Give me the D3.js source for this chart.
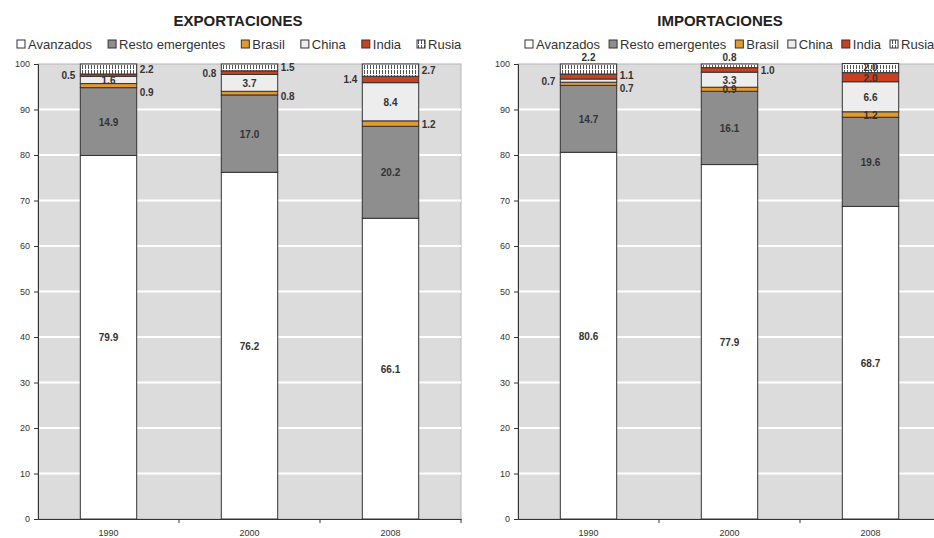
<!DOCTYPE html>
<html lang="es">
<head>
<meta charset="utf-8">
<title>Exportaciones e importaciones</title>
<script src="https://cdn.jsdelivr.net/npm/d3@7/dist/d3.min.js"></script>
<style>
  body { margin: 0; background: #fff; }
  svg { font-family: "Liberation Sans", Arial, sans-serif; }
  .title { font-size: 15px; font-weight: bold; fill: #222; }
  .legend text { font-size: 13px; fill: #333; }
  .tick text { font-size: 9px; fill: #333; }
  .val { font-size: 10px; font-weight: bold; fill: #333; }
</style>
</head>
<body>
<svg width="934" height="538"></svg>
<script>
// categorias y series
var years = ["1990", "2000", "2008"];
var series = ["Avanzados", "Resto emergentes", "Brasil", "China", "India", "Rusia"];
var yTicks = [0, 10, 20, 30, 40, 50, 60, 70, 80, 90, 100];

// exportaciones (% del total)
var expAvanzados = [79.9, 76.2, 66.1];
var expResto     = [14.9, 17.0, 20.2];
var expBrasil    = [0.9, 0.8, 1.2];
var expChina     = [1.6, 3.7, 8.4];
var expIndia     = [0.5, 0.8, 1.4];
var expRusia     = [2.2, 1.5, 2.7];

// importaciones (% del total)
var impAvanzados = [80.6, 77.9, 68.7];
var impResto     = [14.7, 16.1, 19.6];
var impBrasil    = [0.7, 0.9, 1.2];
var impChina     = [0.7, 3.3, 6.6];
var impIndia     = [1.1, 1.0, 2.0];
var impRusia     = [2.2, 0.8, 2.0];

// donde va cada etiqueta (las grandes siempre dentro) y pequeños ajustes verticales
var expLabelPlace = {
  "Brasil": ["right", "right", "right"],
  "China":  ["in", "in", "in"],
  "India":  ["left", "left", "left"],
  "Rusia":  ["right", "right", "right"]
};
var expLabelNudge = { "Brasil": [6, 3, 0] };
var impLabelPlace = {
  "Brasil": ["right", "in", "in"],
  "China":  ["left", "in", "in"],
  "India":  ["right", "right", "in"],
  "Rusia":  ["top", "top", "in"]
};
var impLabelNudge = { "Brasil": [4, 0, 0], "India": [-2, 0, 1], "Rusia": [0, 0, -1] };

var colors = {
  "Avanzados": "#ffffff",
  "Resto emergentes": "#8e8e8e",
  "Brasil": "#e29a30",
  "China": "#ededed",
  "India": "#c8401f",
  "Rusia": "url(#rusia)"
};

var svg = d3.select("svg");

// trama para Rusia
var pat = svg.append("defs").append("pattern")
    .attr("id", "rusia")
    .attr("patternUnits", "userSpaceOnUse")
    .attr("width", 3).attr("height", 5);
pat.append("rect").attr("width", 3).attr("height", 5).attr("fill", "#fff");
pat.append("rect").attr("x", 1).attr("y", 0).attr("width", 1).attr("height", 4).attr("fill", "#555");

function buildRows(av, re, br, ch, ind, ru) {
  return years.map(function (y, i) {
    return { year: y, "Avanzados": av[i], "Resto emergentes": re[i], "Brasil": br[i],
             "China": ch[i], "India": ind[i], "Rusia": ru[i] };
  });
}

function drawPanel(opt) {
  var x0 = opt.x0, x1 = opt.x0 + 423, yTop = 64, yBot = 519;
  var g = svg.append("g");

  var x = d3.scaleBand().domain(years).range([x0, x1]).paddingInner(0.6).paddingOuter(0.3);
  var y = d3.scaleLinear().domain([0, 100]).range([yBot, yTop]);

  // titulo
  g.append("text").attr("class", "title")
      .attr("x", opt.titleX).attr("y", 26)
      .attr("text-anchor", "middle").text(opt.title);

  // leyenda
  var leg = g.append("g").attr("class", "legend");
  var lx = opt.legendX;
  series.forEach(function (s) {
    leg.append("rect").attr("x", lx).attr("y", 40).attr("width", 8).attr("height", 8)
        .attr("fill", colors[s]).attr("stroke", "#333").attr("stroke-width", 1);
    var t = leg.append("text").attr("x", lx + 11).attr("y", 49).text(s);
    lx += 11 + t.node().getComputedTextLength() + opt.legendGap;
  });

  // fondo y rejilla
  g.append("rect").attr("x", x0).attr("y", yTop).attr("width", x1 - x0).attr("height", yBot - yTop)
      .attr("fill", "#dcdcdc").attr("stroke", "#b5b5b5");
  g.append("g").selectAll("line").data(yTicks.slice(1, -1)).enter().append("line")
      .attr("x1", x0).attr("x2", x1)
      .attr("y1", function (d) { return y(d); }).attr("y2", function (d) { return y(d); })
      .attr("stroke", "#fff").attr("stroke-width", 2);

  // barras apiladas
  var stack = d3.stack().keys(series)(opt.rows);
  var layers = g.append("g").selectAll("g").data(stack).enter().append("g")
      .attr("fill", function (d) { return colors[d.key]; });
  layers.selectAll("rect").data(function (d) { return d; }).enter().append("rect")
      .attr("x", function (d) { return x(d.data.year); })
      .attr("width", x.bandwidth())
      .attr("y", function (d) { return y(d[1]); })
      .attr("height", function (d) { return y(d[0]) - y(d[1]); })
      .attr("stroke", "#333").attr("stroke-width", 1);

  // etiquetas de valores
  var labels = g.append("g");
  stack.forEach(function (layer) {
    layer.forEach(function (d, i) {
      var v = d.data[layer.key];
      var place = opt.place[layer.key] ? opt.place[layer.key][i] : "in";
      var dy = opt.nudge[layer.key] ? opt.nudge[layer.key][i] : 0;
      var cx = x(d.data.year) + x.bandwidth() / 2;
      var cy = (y(d[0]) + y(d[1])) / 2 + dy;
      var t = labels.append("text").attr("class", "val").text(v.toFixed(1));
      if (place === "left") {
        t.attr("x", x(d.data.year) - 5).attr("y", cy + 4).attr("text-anchor", "end");
      } else if (place === "right") {
        t.attr("x", x(d.data.year) + x.bandwidth() + 3).attr("y", cy + 4).attr("text-anchor", "start");
      } else if (place === "top") {
        t.attr("x", cx).attr("y", y(d[1]) - 3).attr("text-anchor", "middle");
      } else {
        t.attr("x", cx).attr("y", cy + 4).attr("text-anchor", "middle");
      }
    });
  });

  // ejes
  var yAxis = g.append("g").attr("transform", "translate(" + x0 + ",0)")
      .call(d3.axisLeft(y).tickValues(yTicks).tickSize(4).tickPadding(4));
  yAxis.select(".domain").attr("stroke", "#333");
  yAxis.selectAll(".tick line").attr("stroke", "#333");

  var xAxis = g.append("g").attr("transform", "translate(0," + yBot + ")")
      .call(d3.axisBottom(x).tickSize(0).tickPadding(11));
  xAxis.select(".domain").attr("stroke", "#333");
  // marcas entre categorias
  xAxis.selectAll(".sep").data(years).enter().append("line")
      .attr("x1", function (d) { return x(d) + x.bandwidth() / 2 + x.step() / 2; })
      .attr("x2", function (d) { return x(d) + x.bandwidth() / 2 + x.step() / 2; })
      .attr("y1", 0).attr("y2", 4).attr("stroke", "#333");
}

drawPanel({
  title: "EXPORTACIONES", titleX: 238, legendX: 17, legendGap: 16, x0: 38,
  rows: buildRows(expAvanzados, expResto, expBrasil, expChina, expIndia, expRusia),
  place: expLabelPlace, nudge: expLabelNudge
});

drawPanel({
  title: "IMPORTACIONES", titleX: 720, legendX: 525, legendGap: 9, x0: 518,
  rows: buildRows(impAvanzados, impResto, impBrasil, impChina, impIndia, impRusia),
  place: impLabelPlace, nudge: impLabelNudge
});
</script>
</body>
</html>
